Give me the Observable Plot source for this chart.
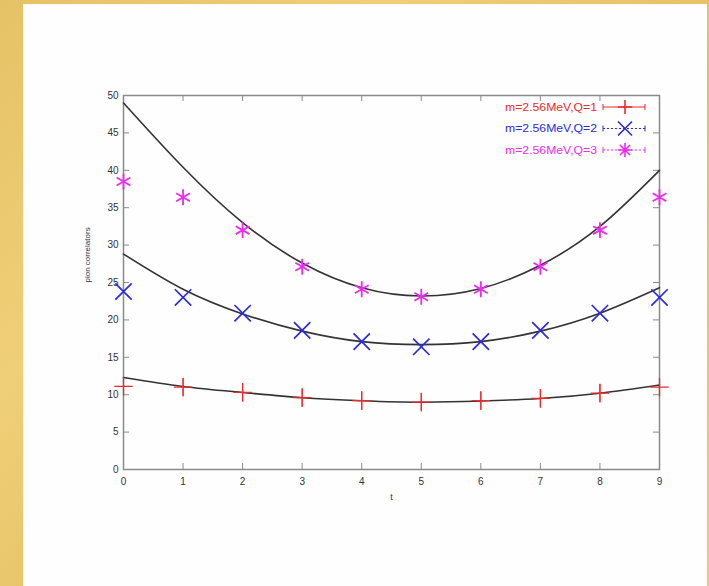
<!DOCTYPE html>
<html>
<head>
<meta charset="utf-8">
<script src="https://cdn.jsdelivr.net/npm/d3@7"></script>
<script src="https://cdn.jsdelivr.net/npm/@observablehq/plot@0.6"></script>
<style>
  html, body { margin: 0; padding: 0; }
  body { width: 709px; height: 586px; position: relative; overflow: hidden;
         background: linear-gradient(135deg, #e6c266 0%, #efcf78 30%, #e4bf62 60%, #eccb70 100%); }
  #panel { position: absolute; left: 23px; top: 4px; width: 684px; height: 582px; background: #fefefe; }
  #chart { position: absolute; left: 0; top: 0; }
  #legend { position: absolute; left: 0; top: 0; }
</style>
</head>
<body>
<div id="panel"></div>
<div id="chart"></div>
<svg id="legend" width="709" height="586" xmlns="http://www.w3.org/2000/svg"></svg>
<script>
// ---- data ----
const tValues = [0, 1, 2, 3, 4, 5, 6, 7, 8, 9];
const q1Values = [11.1, 11.0, 10.3, 9.6, 9.2, 9.0, 9.2, 9.5, 10.2, 11.0];
const q1Errors = [1.2, 1.2, 1.2, 1.2, 1.2, 1.2, 1.2, 1.2, 1.2, 1.2];
const q2Values = [23.8, 23.0, 20.9, 18.6, 17.1, 16.4, 17.1, 18.6, 20.9, 23.0];
const q3Values = [38.5, 36.4, 32.0, 27.1, 24.1, 23.1, 24.1, 27.1, 32.0, 36.4];
const q1Fit = [12.3, 11.1, 10.3, 9.6, 9.2, 9.0, 9.15, 9.5, 10.2, 11.3];
const q2Fit = [28.8, 24.1, 20.8, 18.5, 17.1, 16.7, 17.1, 18.5, 20.9, 24.3];
const q3Fit = [49.0, 40.4, 33.0, 27.6, 24.3, 23.2, 24.2, 27.3, 32.5, 40.0];
const seriesNames = ["m=2.56MeV,Q=1", "m=2.56MeV,Q=2", "m=2.56MeV,Q=3"];
const seriesColors = ["#f02828", "#2a2ae0", "#ee2aee"];
const xTicks = [0, 1, 2, 3, 4, 5, 6, 7, 8, 9];
const yTicks = [0, 5, 10, 15, 20, 25, 30, 35, 40, 45, 50];

const pts = (vals) => tValues.map((t, i) => ({t, v: vals[i], e: q1Errors[i]}));
const d1 = pts(q1Values), d2 = pts(q2Values), d3p = pts(q3Values);
const f1 = pts(q1Fit), f2 = pts(q2Fit), f3 = pts(q3Fit);

const W = 709, H = 586;
const mL = 123, mR = 50, mT = 95, mB = 117;
const pw = W - mL - mR, ph = H - mT - mB;
const tickLen = 6;
const axisColor = "#8a8a8a";

const chart = Plot.plot({
  width: W, height: H,
  marginLeft: mL, marginRight: mR, marginTop: mT, marginBottom: mB,
  style: {background: "transparent", fontFamily: "Liberation Sans, Arial, sans-serif", color: "#333"},
  x: {domain: [0, 9]},
  y: {domain: [0, 50]},
  marks: [
    Plot.frame({stroke: axisColor, strokeWidth: 1.5}),
    // inward ticks on all four sides (gnuplot style)
    Plot.tickY(yTicks, {y: d => d, stroke: axisColor, insetRight: pw - tickLen}),
    Plot.tickY(yTicks, {y: d => d, stroke: axisColor, insetLeft: pw - tickLen}),
    Plot.tickX(xTicks, {x: d => d, stroke: axisColor, insetTop: ph - tickLen}),
    Plot.tickX(xTicks, {x: d => d, stroke: axisColor, insetBottom: ph - tickLen}),
    Plot.axisY({ticks: yTicks, tickSize: 0, tickPadding: 5, fontSize: 10, label: null}),
    Plot.axisX({ticks: xTicks, tickSize: 0, tickPadding: 8, fontSize: 10, label: null}),
    Plot.text(["t"], {frameAnchor: "bottom", dy: 30, fontSize: 9, fill: "#333"}),
    Plot.text(["pion correlators"], {frameAnchor: "left", dx: -36, rotate: -90, fontSize: 8, fill: "#333"}),
    // fit curves
    Plot.line(f1, {x: "t", y: "v", stroke: "#333", strokeWidth: 1.6, curve: "natural"}),
    Plot.line(f2, {x: "t", y: "v", stroke: "#333", strokeWidth: 1.6, curve: "natural"}),
    Plot.line(f3, {x: "t", y: "v", stroke: "#333", strokeWidth: 1.6, curve: "natural"}),
    // data points
    Plot.ruleX(d1, {x: "t", y1: d => d.v - d.e, y2: d => d.v + d.e, stroke: seriesColors[0], strokeWidth: 1}),
    Plot.dot(d1, {x: "t", y: "v", symbol: "plus", r: 6, stroke: seriesColors[0], strokeWidth: 1.3}),
    Plot.dot(d2, {x: "t", y: "v", symbol: "times", r: 7.5, stroke: seriesColors[1], strokeWidth: 1.7}),
    Plot.dot(d3p, {x: "t", y: "v", symbol: "asterisk", r: 7.5, stroke: seriesColors[2], strokeWidth: 1.8})
  ]
});
document.getElementById("chart").appendChild(chart);

// legend (top-right inside the frame), plain SVG DOM
const NS = "http://www.w3.org/2000/svg";
const lg = document.getElementById("legend");
function el(tag, attrs, text) {
  const e = document.createElementNS(NS, tag);
  for (const k in attrs) if (attrs[k] != null) e.setAttribute(k, attrs[k]);
  if (text) e.textContent = text;
  lg.appendChild(e);
  return e;
}
const glyphs = [
  "M-7,0H7M0,-7V7",
  "M-7,-7L7,7M-7,7L7,-7",
  "M-7,0H7M0,-7V7M-5,-5L5,5M-5,5L5,-5"
];
seriesNames.forEach((name, i) => {
  const y = 107 + i * 21.5;
  el("text", {x: 597, y: y + 3.5, "text-anchor": "end", "font-size": 10,
    textLength: 92, lengthAdjust: "spacingAndGlyphs",
    "font-family": "Liberation Sans, Arial, sans-serif", fill: seriesColors[i]}, name);
  el("line", {x1: 603, x2: 645, y1: y, y2: y, stroke: seriesColors[i], "stroke-width": 1,
    "stroke-dasharray": i === 0 ? null : "2,2"});
  el("line", {x1: 603, x2: 603, y1: y - 3, y2: y + 3, stroke: seriesColors[i]});
  el("line", {x1: 645, x2: 645, y1: y - 3, y2: y + 3, stroke: seriesColors[i]});
  el("path", {d: glyphs[i], transform: `translate(625,${y})`, fill: "none",
    stroke: seriesColors[i], "stroke-width": 1.6});
});
</script>
</body>
</html>
